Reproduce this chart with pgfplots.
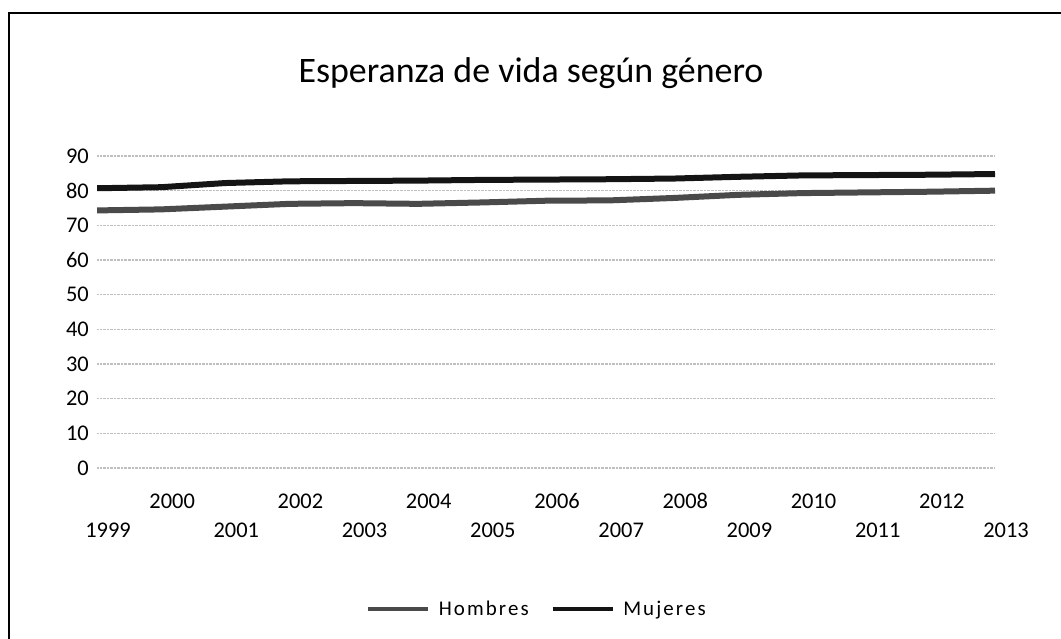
\documentclass[border=0pt]{standalone}
\usepackage{fontspec}
\setmainfont{Carlito}
\usepackage{pgfplots}
\pgfplotsset{compat=1.18}
\definecolor{hom}{HTML}{4A4A4A}
\definecolor{muj}{HTML}{141414}
\begin{document}
\begin{tikzpicture}
\path[use as bounding box] (0bp,0bp) rectangle (1061bp,639bp);
\draw[line width=2.5bp] (9bp,-5bp) -- (9bp,626bp) -- (1066bp,626bp);
\node[anchor=base, inner sep=0pt, font=\fontsize{36}{40}\selectfont] at (531bp,556bp) {Esperanza de vida según género};
\begin{axis}[
  at={(97bp,171bp)}, anchor=south west,
  width=898bp, height=312bp, scale only axis,
  xmin=0, xmax=14, ymin=0, ymax=90,
  axis line style={draw=none},
  major tick length=0pt,
  ytick={0,10,...,90},
  ymajorgrids=true,
  major grid style={gray!50, densely dotted, line width=1.3bp},
  xtick={1,3,5,7,9,11,13},
  xticklabels={2000,2002,2004,2006,2008,2010,2012},
  extra x ticks={0,2,4,6,8,10,12,14},
  extra x tick labels={1999,2001,2003,2005,2007,2009,2011,2013},
  extra x tick style={xticklabel style={yshift=-29bp}, grid=none},
  xticklabel style={anchor=base, inner sep=0pt, yshift=-40bp, xshift=11bp, font=\fontsize{22.5}{26}\selectfont},
  yticklabel style={anchor=east, inner sep=0pt, xshift=-8bp, font=\fontsize{22.5}{26}\selectfont},
  /pgf/number format/assume math mode=true,
  legend columns=2,
  legend style={at={(0.49,-0.452)}, anchor=center, draw=none, fill=none,
    font=\fontsize{21}{24}\selectfont\addfontfeature{LetterSpace=10},
    /tikz/every odd column/.append style={column sep=7bp},
    /tikz/every even column/.append style={column sep=20bp}},
  legend image code/.code={\draw[#1, line width=3.5bp] (0bp,0bp) -- (60bp,0bp);},
]
\addplot[hom, line width=6bp] coordinates {
(0,74.3) (1,74.6) (2,75.4) (3,76.2) (4,76.4) (5,76.2) (6,76.6) (7,77.1)
(8,77.2) (9,77.9) (10,78.8) (11,79.3) (12,79.5) (13,79.7) (14,80.0)};
\addlegendentry{Hombres}
\addplot[muj, line width=6bp] coordinates {
(0,80.7) (1,81.0) (2,82.2) (3,82.7) (4,82.8) (5,82.9) (6,83.1) (7,83.2)
(8,83.3) (9,83.5) (10,84.0) (11,84.4) (12,84.5) (13,84.6) (14,84.8)};
\addlegendentry{Mujeres}
\end{axis}
\end{tikzpicture}
\end{document}
